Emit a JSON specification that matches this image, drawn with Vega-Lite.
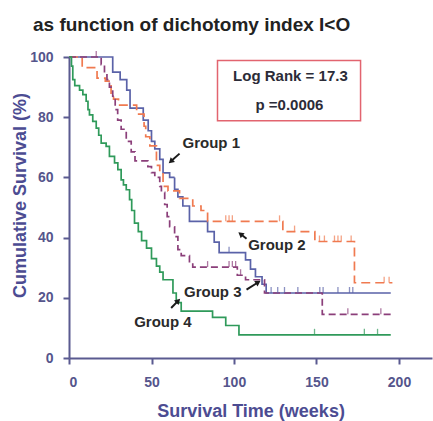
{
  "$schema": "https://vega.github.io/schema/vega-lite/v6.json",
  "width": 363,
  "height": 301,
  "autosize": "none",
  "padding": {"left": 69, "top": 57, "right": 1, "bottom": 63},
  "background": "white",
  "config": {
    "view": {"stroke": null},
    "font": "Liberation Sans",
    "axis": {
      "grid": false,
      "domainColor": "#5a5a90",
      "domainWidth": 2,
      "tickColor": "#5a5a90",
      "tickWidth": 2,
      "tickSize": 6,
      "labelAngle": 0,
      "labelFont": "Liberation Sans",
      "labelFontSize": 14,
      "labelFontWeight": "bold",
      "labelColor": "#55558c",
      "titleFont": "Liberation Sans",
      "titleFontSize": 18,
      "titleFontWeight": "bold",
      "titleColor": "#4c4c92"
    }
  },
  "title": {
    "text": "as function of dichotomy index I<O",
    "anchor": "start",
    "frame": "group",
    "dx": -36,
    "offset": 0,
    "baseline": "alphabetic",
    "font": "Liberation Sans",
    "fontSize": 19,
    "fontWeight": "bold",
    "color": "#222222"
  },
  "datasets": {
    "curves": [
      {"group": "Group 1", "week": 0, "surv": 100},
      {"group": "Group 1", "week": 26.5, "surv": 95},
      {"group": "Group 1", "week": 31, "surv": 92.5},
      {"group": "Group 1", "week": 35, "surv": 89},
      {"group": "Group 1", "week": 37, "surv": 83},
      {"group": "Group 1", "week": 45, "surv": 79},
      {"group": "Group 1", "week": 48, "surv": 75.5},
      {"group": "Group 1", "week": 50, "surv": 72},
      {"group": "Group 1", "week": 52, "surv": 69.5},
      {"group": "Group 1", "week": 55, "surv": 66},
      {"group": "Group 1", "week": 57, "surv": 61.5},
      {"group": "Group 1", "week": 61, "surv": 60},
      {"group": "Group 1", "week": 64, "surv": 56},
      {"group": "Group 1", "week": 66, "surv": 53.5},
      {"group": "Group 1", "week": 69, "surv": 50.5},
      {"group": "Group 1", "week": 73, "surv": 45.4},
      {"group": "Group 1", "week": 84, "surv": 42},
      {"group": "Group 1", "week": 88, "surv": 38.5},
      {"group": "Group 1", "week": 91, "surv": 35},
      {"group": "Group 1", "week": 107, "surv": 32.6},
      {"group": "Group 1", "week": 110, "surv": 29.5},
      {"group": "Group 1", "week": 113, "surv": 27},
      {"group": "Group 1", "week": 117, "surv": 24.5},
      {"group": "Group 1", "week": 119.5, "surv": 21.6},
      {"group": "Group 1", "week": 195, "surv": 21.6},
      {"group": "Group 2", "week": 0, "surv": 100},
      {"group": "Group 2", "week": 8, "surv": 96.5},
      {"group": "Group 2", "week": 17, "surv": 93},
      {"group": "Group 2", "week": 22, "surv": 92},
      {"group": "Group 2", "week": 25.5, "surv": 88},
      {"group": "Group 2", "week": 27, "surv": 86},
      {"group": "Group 2", "week": 30, "surv": 84},
      {"group": "Group 2", "week": 41, "surv": 81},
      {"group": "Group 2", "week": 45.5, "surv": 77},
      {"group": "Group 2", "week": 46.5, "surv": 73.5},
      {"group": "Group 2", "week": 49, "surv": 70.5},
      {"group": "Group 2", "week": 53, "surv": 64},
      {"group": "Group 2", "week": 55, "surv": 61.5},
      {"group": "Group 2", "week": 57, "surv": 57},
      {"group": "Group 2", "week": 60, "surv": 55.5},
      {"group": "Group 2", "week": 67, "surv": 53},
      {"group": "Group 2", "week": 75, "surv": 50.5},
      {"group": "Group 2", "week": 80, "surv": 49},
      {"group": "Group 2", "week": 84, "surv": 45.4},
      {"group": "Group 2", "week": 129.6, "surv": 42},
      {"group": "Group 2", "week": 149, "surv": 38.7},
      {"group": "Group 2", "week": 173, "surv": 25},
      {"group": "Group 2", "week": 196, "surv": 25},
      {"group": "Group 3", "week": 0, "surv": 100},
      {"group": "Group 3", "week": 19.5, "surv": 97.5},
      {"group": "Group 3", "week": 21.5, "surv": 94.5},
      {"group": "Group 3", "week": 23, "surv": 92.5},
      {"group": "Group 3", "week": 24.5, "surv": 90},
      {"group": "Group 3", "week": 26.5, "surv": 87},
      {"group": "Group 3", "week": 28, "surv": 82.5},
      {"group": "Group 3", "week": 29.5, "surv": 79},
      {"group": "Group 3", "week": 31.6, "surv": 76},
      {"group": "Group 3", "week": 34.7, "surv": 72},
      {"group": "Group 3", "week": 37.7, "surv": 68.5},
      {"group": "Group 3", "week": 40, "surv": 65.5},
      {"group": "Group 3", "week": 47.8, "surv": 63.6},
      {"group": "Group 3", "week": 50, "surv": 61.6},
      {"group": "Group 3", "week": 52, "surv": 60},
      {"group": "Group 3", "week": 55, "surv": 57},
      {"group": "Group 3", "week": 56, "surv": 55},
      {"group": "Group 3", "week": 58, "surv": 51},
      {"group": "Group 3", "week": 59.5, "surv": 47},
      {"group": "Group 3", "week": 61, "surv": 43.6},
      {"group": "Group 3", "week": 64, "surv": 40.3},
      {"group": "Group 3", "week": 66, "surv": 36},
      {"group": "Group 3", "week": 68, "surv": 34},
      {"group": "Group 3", "week": 73, "surv": 32},
      {"group": "Group 3", "week": 75, "surv": 30.2},
      {"group": "Group 3", "week": 102, "surv": 27.5},
      {"group": "Group 3", "week": 107, "surv": 26},
      {"group": "Group 3", "week": 118.5, "surv": 21.6},
      {"group": "Group 3", "week": 153.5, "surv": 14.5},
      {"group": "Group 3", "week": 195, "surv": 14.5},
      {"group": "Group 4", "week": 0, "surv": 100},
      {"group": "Group 4", "week": 1.5, "surv": 97},
      {"group": "Group 4", "week": 2.3, "surv": 92.5},
      {"group": "Group 4", "week": 3.5, "surv": 90.5},
      {"group": "Group 4", "week": 6.4, "surv": 89},
      {"group": "Group 4", "week": 8.4, "surv": 87.5},
      {"group": "Group 4", "week": 10.4, "surv": 85.3},
      {"group": "Group 4", "week": 11.5, "surv": 82.5},
      {"group": "Group 4", "week": 12.4, "surv": 80.8},
      {"group": "Group 4", "week": 14.4, "surv": 78.6},
      {"group": "Group 4", "week": 16.5, "surv": 76.4},
      {"group": "Group 4", "week": 18, "surv": 74},
      {"group": "Group 4", "week": 19.5, "surv": 71.4},
      {"group": "Group 4", "week": 22.5, "surv": 70.3},
      {"group": "Group 4", "week": 24.5, "surv": 67},
      {"group": "Group 4", "week": 27.6, "surv": 64.8},
      {"group": "Group 4", "week": 29.6, "surv": 62.6},
      {"group": "Group 4", "week": 31.6, "surv": 59.2},
      {"group": "Group 4", "week": 33, "surv": 57.5},
      {"group": "Group 4", "week": 34.7, "surv": 55.9},
      {"group": "Group 4", "week": 36.7, "surv": 52.6},
      {"group": "Group 4", "week": 38, "surv": 49},
      {"group": "Group 4", "week": 39.7, "surv": 44.8},
      {"group": "Group 4", "week": 42, "surv": 42},
      {"group": "Group 4", "week": 44, "surv": 39},
      {"group": "Group 4", "week": 47, "surv": 36.5},
      {"group": "Group 4", "week": 50, "surv": 33},
      {"group": "Group 4", "week": 53, "surv": 30.5},
      {"group": "Group 4", "week": 55, "surv": 28.5},
      {"group": "Group 4", "week": 57, "surv": 26},
      {"group": "Group 4", "week": 63, "surv": 21.6},
      {"group": "Group 4", "week": 65, "surv": 18.4},
      {"group": "Group 4", "week": 68, "surv": 15.6},
      {"group": "Group 4", "week": 87, "surv": 13.5},
      {"group": "Group 4", "week": 95, "surv": 10.8},
      {"group": "Group 4", "week": 103, "surv": 7.7},
      {"group": "Group 4", "week": 195, "surv": 7.7}
    ],
    "censor": [
      {"group": "Group 1", "week": 97, "surv": 35},
      {"group": "Group 1", "week": 122.5, "surv": 21.6},
      {"group": "Group 1", "week": 126.5, "surv": 21.6},
      {"group": "Group 1", "week": 130.6, "surv": 21.6},
      {"group": "Group 1", "week": 138.7, "surv": 21.6},
      {"group": "Group 1", "week": 152, "surv": 21.6},
      {"group": "Group 1", "week": 154, "surv": 21.6},
      {"group": "Group 1", "week": 163, "surv": 21.6},
      {"group": "Group 1", "week": 170, "surv": 21.6},
      {"group": "Group 1", "week": 172, "surv": 21.6},
      {"group": "Group 2", "week": 95, "surv": 45.4},
      {"group": "Group 2", "week": 97, "surv": 45.4},
      {"group": "Group 2", "week": 99, "surv": 45.4},
      {"group": "Group 2", "week": 127.6, "surv": 45.4},
      {"group": "Group 2", "week": 136.7, "surv": 42},
      {"group": "Group 2", "week": 151.8, "surv": 38.7},
      {"group": "Group 2", "week": 154.8, "surv": 38.7},
      {"group": "Group 2", "week": 160.9, "surv": 38.7},
      {"group": "Group 2", "week": 163, "surv": 38.7},
      {"group": "Group 2", "week": 165, "surv": 38.7},
      {"group": "Group 2", "week": 171, "surv": 38.7},
      {"group": "Group 2", "week": 191, "surv": 25},
      {"group": "Group 2", "week": 194, "surv": 25},
      {"group": "Group 3", "week": 16.5, "surv": 100},
      {"group": "Group 3", "week": 84, "surv": 30.2},
      {"group": "Group 3", "week": 97, "surv": 30.2},
      {"group": "Group 3", "week": 99, "surv": 30.2},
      {"group": "Group 3", "week": 101, "surv": 30.2},
      {"group": "Group 3", "week": 104, "surv": 27.5},
      {"group": "Group 3", "week": 169, "surv": 14.5},
      {"group": "Group 3", "week": 189, "surv": 14.5},
      {"group": "Group 4", "week": 148.8, "surv": 7.7},
      {"group": "Group 4", "week": 179, "surv": 7.7},
      {"group": "Group 4", "week": 187, "surv": 7.7}
    ],
    "labels": [
      {"text": "Group 1", "week": 86.2, "surv": 69.9},
      {"text": "Group 2", "week": 126, "surv": 36},
      {"text": "Group 3", "week": 87.1, "surv": 20.3},
      {"text": "Group 4", "week": 56.9, "surv": 10.4}
    ],
    "arrows": [
      {"arrow": "Group 1", "week": 67, "surv": 67.9, "week2": 62.1, "surv2": 65.5},
      {"arrow": "Group 2", "week": 107.6, "surv": 39.6, "week2": 104.4, "surv2": 41},
      {"arrow": "Group 3", "week": 107.6, "surv": 22.7, "week2": 114.2, "surv2": 25},
      {"arrow": "Group 4", "week": 61.9, "surv": 16.6, "week2": 65.8, "surv2": 18.8}
    ],
    "box": [
      {"week": 90, "surv": 98.8, "week2": 176.7, "surv2": 78.8}
    ],
    "stats": [
      {"text": "Log Rank = 17.3", "week": 134.2, "surv": 91.9},
      {"text": "p =0.0006", "week": 133.6, "surv": 82.5}
    ]
  },
  "layer": [
    {
      "data": {"name": "box"},
      "mark": {"type": "rect", "fill": "white", "stroke": "#e2646f", "strokeWidth": 1.5},
      "encoding": {
        "x": {"field": "week", "type": "quantitative", "title": "Survival Time (weeks)"},
        "x2": {"field": "week2"},
        "y": {"field": "surv", "type": "quantitative", "title": "Cumulative Survival (%)"},
        "y2": {"field": "surv2"}
      }
    },
    {
      "data": {"name": "stats"},
      "mark": {"type": "text", "align": "center", "baseline": "alphabetic", "font": "Liberation Sans", "fontSize": 15, "fontWeight": "bold", "color": "#2c2c38"},
      "encoding": {
        "x": {"field": "week", "type": "quantitative", "title": "Survival Time (weeks)"},
        "y": {"field": "surv", "type": "quantitative", "title": "Cumulative Survival (%)"},
        "text": {"field": "text"}
      }
    },
    {
      "data": {"name": "curves"},
      "mark": {"type": "line", "interpolate": "step-after", "strokeWidth": 1.7},
      "encoding": {
        "x": {
          "field": "week", "type": "quantitative", "title": "Survival Time (weeks)",
          "scale": {"domain": [0, 220], "nice": false, "zero": false},
          "axis": {"values": [0, 50, 100, 150, 200], "labelPadding": 11, "labelAngle": 0, "titleY": 58, "titleBaseline": "alphabetic"}
        },
        "y": {
          "field": "surv", "type": "quantitative", "title": "Cumulative Survival (%)",
          "scale": {"domain": [0, 100], "nice": false},
          "axis": {"values": [0, 20, 40, 60, 80, 100], "labelPadding": 10, "labelAngle": 0, "labelAlign": "right", "labelBaseline": "middle", "titleX": -44, "titleY": 138, "titleAlign": "center", "titleBaseline": "alphabetic", "titleAngle": 270}
        },
        "color": {
          "field": "group", "type": "nominal", "legend": null,
          "scale": {"domain": ["Group 1", "Group 2", "Group 3", "Group 4"], "range": ["#5a62a8", "#f07a50", "#8b3f7a", "#2f9a5a"]}
        },
        "strokeDash": {
          "field": "group", "type": "nominal", "legend": null,
          "scale": {"domain": ["Group 1", "Group 2", "Group 3", "Group 4"], "range": [[1, 0], [9, 5], [7, 4], [1, 0]]}
        },
        "order": {"field": "week", "type": "quantitative"}
      }
    },
    {
      "data": {"name": "censor"},
      "mark": {"type": "tick", "orient": "vertical", "size": 6, "thickness": 1.3, "yOffset": -3},
      "encoding": {
        "x": {"field": "week", "type": "quantitative", "title": "Survival Time (weeks)"},
        "y": {"field": "surv", "type": "quantitative", "title": "Cumulative Survival (%)"},
        "color": {"field": "group", "type": "nominal", "legend": null}
      }
    },
    {
      "data": {"name": "labels"},
      "mark": {"type": "text", "align": "center", "baseline": "alphabetic", "font": "Liberation Sans", "fontSize": 15, "fontWeight": "bold", "color": "#2a2a2a"},
      "encoding": {
        "x": {"field": "week", "type": "quantitative", "title": "Survival Time (weeks)"},
        "y": {"field": "surv", "type": "quantitative", "title": "Cumulative Survival (%)"},
        "text": {"field": "text"}
      }
    },
    {
      "data": {"name": "arrows"},
      "mark": {"type": "rule", "color": "#1a1a1a", "strokeWidth": 2},
      "encoding": {
        "x": {"field": "week", "type": "quantitative", "title": "Survival Time (weeks)"},
        "x2": {"field": "week2"},
        "y": {"field": "surv", "type": "quantitative", "title": "Cumulative Survival (%)"},
        "y2": {"field": "surv2"}
      }
    },
    {
      "data": {"name": "arrows"},
      "transform": [{"filter": "datum.arrow == 'Group 1'"}],
      "mark": {"type": "point", "shape": "triangle", "filled": true, "color": "#1a1a1a", "size": 40, "angle": 228, "opacity": 1},
      "encoding": {
        "x": {"field": "week2", "type": "quantitative", "title": "Survival Time (weeks)"},
        "y": {"field": "surv2", "type": "quantitative", "title": "Cumulative Survival (%)"}
      }
    },
    {
      "data": {"name": "arrows"},
      "transform": [{"filter": "datum.arrow == 'Group 2'"}],
      "mark": {"type": "point", "shape": "triangle", "filled": true, "color": "#1a1a1a", "size": 40, "angle": 308, "opacity": 1},
      "encoding": {
        "x": {"field": "week2", "type": "quantitative", "title": "Survival Time (weeks)"},
        "y": {"field": "surv2", "type": "quantitative", "title": "Cumulative Survival (%)"}
      }
    },
    {
      "data": {"name": "arrows"},
      "transform": [{"filter": "datum.arrow == 'Group 3'"}],
      "mark": {"type": "point", "shape": "triangle", "filled": true, "color": "#1a1a1a", "size": 40, "angle": 58, "opacity": 1},
      "encoding": {
        "x": {"field": "week2", "type": "quantitative", "title": "Survival Time (weeks)"},
        "y": {"field": "surv2", "type": "quantitative", "title": "Cumulative Survival (%)"}
      }
    },
    {
      "data": {"name": "arrows"},
      "transform": [{"filter": "datum.arrow == 'Group 4'"}],
      "mark": {"type": "point", "shape": "triangle", "filled": true, "color": "#1a1a1a", "size": 40, "angle": 44, "opacity": 1},
      "encoding": {
        "x": {"field": "week2", "type": "quantitative", "title": "Survival Time (weeks)"},
        "y": {"field": "surv2", "type": "quantitative", "title": "Cumulative Survival (%)"}
      }
    }
  ]
}
